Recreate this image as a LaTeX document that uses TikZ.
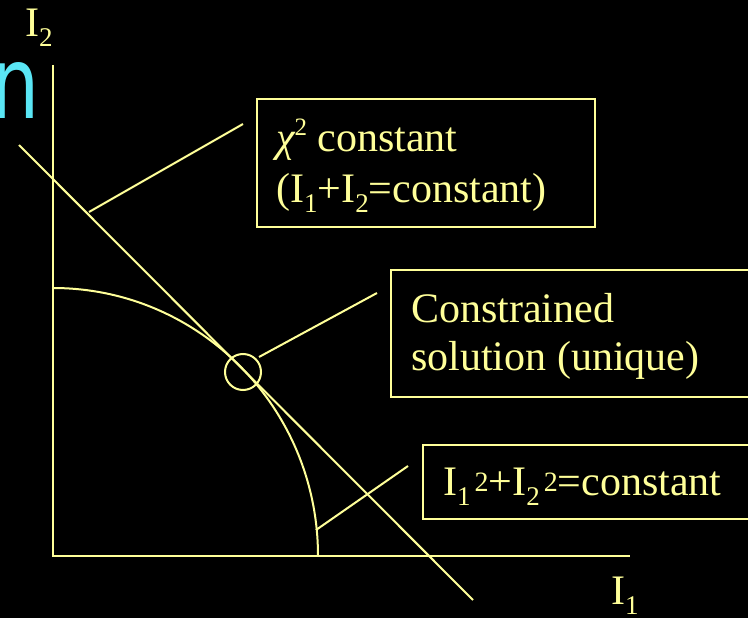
\documentclass[tikz,border=0pt]{standalone}
\usepackage{fontspec}
\setmainfont{Liberation Serif}
\newfontfamily\tnr{Liberation Serif}
\newfontfamily\handfont{DejaVu Sans}
\definecolor{pale}{RGB}{255,255,153}
\definecolor{cyanhand}{RGB}{90,230,245}
\newcommand\scrpt[3]{\raisebox{#1}{\fontsize{#2}{#2}\selectfont #3}}
\newcommand\subx[1]{\scrpt{-10pt}{27pt}{#1}}
\newcommand\supx[1]{\kern4pt\scrpt{4pt}{28pt}{#1}}
\newcommand\supchi[1]{\scrpt{17pt}{25pt}{#1}}
\begin{document}
\begin{tikzpicture}[x=1pt,y=-1pt,
  ln/.style={draw=pale,line width=2pt},
  frame/.style={draw=pale,line width=2pt},
  lbl/.style={text=pale,font=\tnr\fontsize{42}{49}\selectfont,inner sep=0pt,anchor=base west}]
\fill[black] (0,0) rectangle (748,618);
\useasboundingbox (0,0) rectangle (748,618);
% cyan fragment
\node[text=cyanhand,font=\handfont\fontsize{100}{100}\selectfont,inner sep=0pt,anchor=base west] (hand) at (-9,118) {\scalebox{0.76}[1]{n}};
% axes
\coordinate (o) at (53,556);
\coordinate (ytop) at (53,65);
\coordinate (xend) at (630,556);
\draw[ln] (ytop) -- (o) -- (xend);
% diagonal
\coordinate (d1) at (19,145);
\coordinate (d2) at (473,600);
\draw[ln] (d1) -- (d2);
% arc
\coordinate (arcA) at (53,288);
\draw[ln] (arcA) arc[start angle=-90,end angle=0,x radius=265,y radius=268];
% solution circle
\node[circle,draw=pale,line width=2pt,minimum size=36pt,inner sep=0pt] (sol) at (243,372) {};
% boxes
\draw[frame] (257,99) rectangle (595,227);
\draw[frame] (391,270) rectangle (760,397);
\draw[frame] (423,445) rectangle (760,519);
% leaders
\coordinate (l1a) at (89,212);
\coordinate (l1b) at (243,124);
\draw[ln] (l1a) -- (l1b);
\coordinate (l2a) at (259,357);
\coordinate (l2b) at (377,293);
\draw[ln] (l2a) -- (l2b);
\coordinate (l3a) at (316,530);
\coordinate (l3b) at (408,466);
\draw[ln] (l3a) -- (l3b);
% texts
\node[lbl] (t1a) at (276,152) {{\itshape χ}\supchi{2} constant};
\node[lbl] (t1b) at (276,202) {(I\subx{1}+I\subx{2}=constant)};
\node[lbl] (t2a) at (411,322) {Constrained};
\node[lbl] (t2b) at (411,370) {solution (unique)};
\node[lbl] (t3) at (443,495) {I\subx{1}\supx{2}+I\subx{2}\supx{2}=constant};
\node[lbl] (ylab) at (25,37) {I\subx{2}};
\node[lbl] (xlab) at (611,604) {I\subx{1}};
\end{tikzpicture}
\end{document}
